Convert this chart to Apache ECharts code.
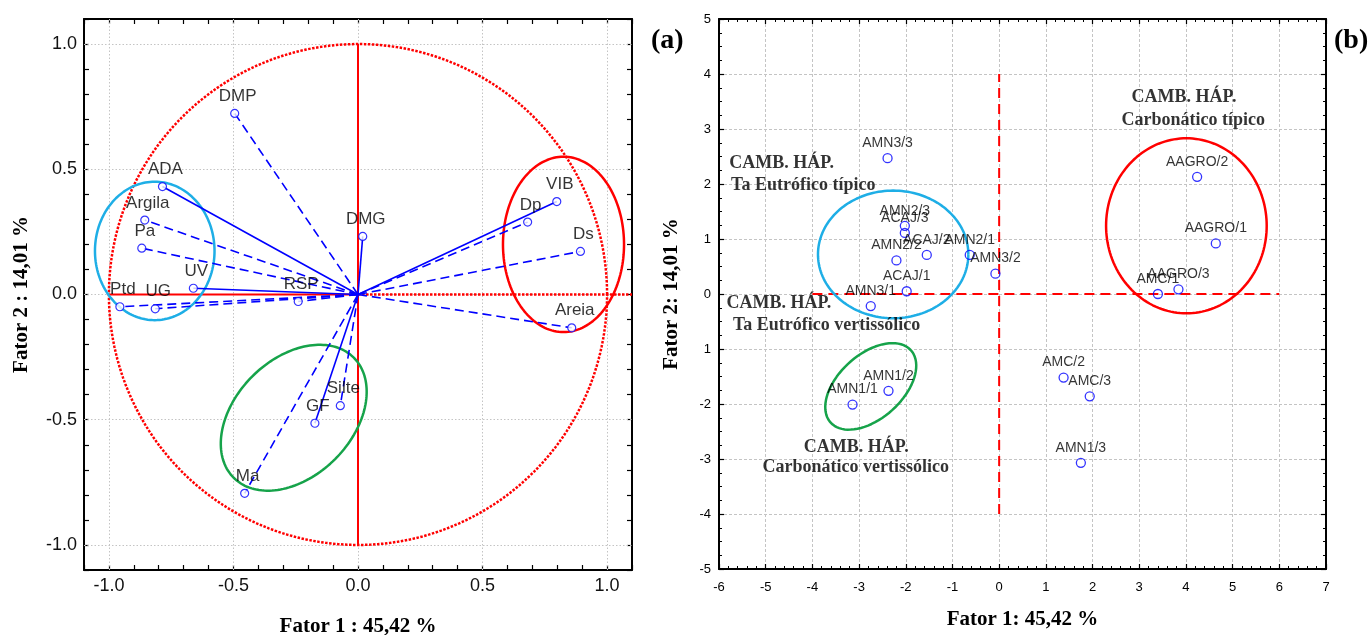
<!DOCTYPE html>
<html>
<head>
<meta charset="utf-8">
<script src="https://cdn.jsdelivr.net/npm/echarts@6/dist/echarts.min.js"></script>
<style>
  html, body { margin: 0; background: #fff; }
  #main { width: 1370px; height: 635px; }
</style>
</head>
<body>
<div id="main"></div>
<script>
// (a) variable loadings on Fator 1 / Fator 2
const varNames = ['DMP', 'ADA', 'Argila', 'Pa', 'UV', 'Ptd', 'UG', 'RSP', 'DMG', 'VIB', 'Dp', 'Ds', 'Areia', 'Silte', 'GF', 'Ma']
const varF1 = [-0.495, -0.785, -0.856, -0.868, -0.661, -0.956, -0.814, -0.240, 0.019, 0.798, 0.681, 0.893, 0.858, -0.071, -0.173, -0.455]
const varF2 = [0.723, 0.431, 0.297, 0.185, 0.025, -0.049, -0.057, -0.028, 0.232, 0.371, 0.289, 0.172, -0.133, -0.444, -0.514, -0.794]
const solidVars = ['ADA', 'UV', 'DMG', 'VIB', 'GF']
const tickValuesA = [-1, -0.5, 0, 0.5, 1]
const tickLabelsA = ['-1.0', '-0.5', '0.0', '0.5', '1.0']

// (b) sample scores
const sampleNames = ['AMN3/3', 'AMN2/3', 'ACAJ/3', 'ACAJ/2', 'AMN2/2', 'AMN2/1', 'AMN3/2', 'ACAJ/1', 'AMN3/1',
  'AAGRO/2', 'AAGRO/1', 'AAGRO/3', 'AMC/1', 'AMN1/1', 'AMN1/2', 'AMC/2', 'AMC/3', 'AMN1/3']
const sampleF1 = [-2.39, -2.02, -2.02, -1.55, -2.20, -0.63, -0.08, -1.98, -2.75, 4.24, 4.64, 3.84, 3.40, -3.14, -2.37, 1.38, 1.94, 1.75]
const sampleF2 = [2.47, 1.24, 1.11, 0.71, 0.61, 0.71, 0.37, 0.05, -0.22, 2.13, 0.92, 0.085, 0.0, -2.01, -1.76, -1.52, -1.86, -3.07]
const yTickLabelsB = ['-5', '-4', '-3', '-2', '1', '0', '1', '2', '3', '4', '5']

// soil class annotations on (b)
const groupTitles = ['CAMB. HÁP.', 'CAMB. HÁP.', 'CAMB. HÁP.', 'CAMB. HÁP.']
const groupSubtitles = ['Ta Eutrófico típico', 'Ta Eutrófico vertissólico', 'Carbonático vertissólico', 'Carbonático típico']

const SANS = '"Liberation Sans", Arial, sans-serif'
const SERIF = '"Liberation Serif", "Times New Roman", serif'
const BLUE = '#0000ff'
const RED = '#ff0000'
const CYAN = '#1eaee6'
const GREEN = '#16a34a'

const gridA = { left: 84, top: 19, width: 548, height: 551 }
const gridB = { left: 719, top: 19, width: 607, height: 550 }
const aspectA = (gridA.width / 2.2) / (gridA.height / 2.2)
const aspectB = (gridB.width / 13) / (gridB.height / 10)

// group outlines: centre in data units, semi axes in x units
const ellipsesA = [
  { cx: -0.816, cy: 0.174, a: 0.240, b: 0.278, deg: 0, color: CYAN },
  { cx: 0.825, cy: 0.200, a: 0.243, b: 0.352, deg: 0, color: RED },
  { cx: -0.258, cy: -0.492, a: 0.341, b: 0.235, deg: 45, color: GREEN }
]
const ellipsesB = [
  { cx: -2.27, cy: 0.72, a: 1.61, b: 1.366, deg: 0, color: CYAN },
  { cx: 4.01, cy: 1.24, a: 1.72, b: 1.874, deg: 0, color: RED },
  { cx: -2.75, cy: -1.68, a: 1.157, b: 0.685, deg: 42, color: GREEN }
]
const annotB = [
  { x: -5.78, y: 2.38, align: 'left' }, { x: -5.74, y: 1.97, align: 'left' },
  { x: -5.84, y: -0.17, align: 'left' }, { x: -5.70, y: -0.57, align: 'left' },
  { x: -3.06, y: -2.79, align: 'center' }, { x: -3.07, y: -3.16, align: 'center' },
  { x: 3.96, y: 3.57, align: 'center' }, { x: 4.16, y: 3.15, align: 'center' }
]

function ellipsePts (e, aspect) {
  const pts = []
  const r = e.deg * Math.PI / 180
  for (let i = 0; i <= 160; i++) {
    const t = i / 160 * 2 * Math.PI
    const dx = e.a * Math.cos(t) * Math.cos(r) - e.b * Math.sin(t) * Math.sin(r)
    const dy = e.a * Math.cos(t) * Math.sin(r) + e.b * Math.sin(t) * Math.cos(r)
    pts.push([e.cx + dx, e.cy + dy * aspect])
  }
  return pts
}

function unitCircle () {
  const pts = []
  for (let i = 0; i <= 240; i++) {
    const t = i / 240 * 2 * Math.PI
    pts.push([Math.cos(t), Math.sin(t)])
  }
  return pts
}

function frameAxis (gridIndex, position, min, max, interval, opts) {
  const main = position === 'bottom' || position === 'left'
  return Object.assign({
    type: 'value', gridIndex, position, min, max, interval,
    axisLine: { show: true, onZero: false, lineStyle: { color: '#000', width: 2 } },
    axisTick: { show: true, inside: true, length: 5, lineStyle: { color: '#000', width: 1.2 } },
    splitLine: { show: false },
    axisLabel: { show: main, color: '#000', fontFamily: SANS }
  }, opts)
}

function labelA (v) {
  const i = tickValuesA.findIndex(t => Math.abs(t - v) < 1e-6)
  return i < 0 ? '' : tickLabelsA[i]
}

const titleStyle = { fontFamily: SERIF, fontWeight: 'bold', fontSize: 21, color: '#000' }
const gridLineB = { show: true, lineStyle: { color: '#c4c4c4', type: [3, 2], width: 1 } }

const xAxes = [
  frameAxis(0, 'bottom', -1.1, 1.1, 0.1, {
    name: 'Fator 1 : 45,42 %', nameLocation: 'middle', nameGap: 46, nameTextStyle: titleStyle,
    axisLabel: { show: true, color: '#111', fontFamily: SANS, fontSize: 18, margin: 7, formatter: labelA }
  }),
  frameAxis(0, 'top', -1.1, 1.1, 0.1, {}),
  frameAxis(1, 'bottom', -6, 7, 1, {
    name: 'Fator 1: 45,42 %', nameLocation: 'middle', nameGap: 40, nameTextStyle: titleStyle,
    minorTick: { show: true, splitNumber: 5, length: 3, lineStyle: { color: '#000' } },
    splitLine: gridLineB,
    axisLabel: { show: true, color: '#000', fontFamily: SANS, fontSize: 13, margin: 12 }
  }),
  frameAxis(1, 'top', -6, 7, 1, {
    minorTick: { show: true, splitNumber: 5, length: 3, lineStyle: { color: '#000' } }
  })
]
const yAxes = [
  frameAxis(0, 'left', -1.1, 1.1, 0.1, {
    name: 'Fator 2 : 14,01 %', nameLocation: 'middle', nameGap: 52, nameRotate: 90, nameTextStyle: titleStyle,
    axisLabel: { show: true, color: '#111', fontFamily: SANS, fontSize: 18, margin: 7, formatter: labelA }
  }),
  frameAxis(0, 'right', -1.1, 1.1, 0.1, {}),
  frameAxis(1, 'left', -5, 5, 1, {
    name: 'Fator 2: 14,01 %', nameLocation: 'middle', nameGap: 37, nameRotate: 90, nameTextStyle: titleStyle,
    minorTick: { show: true, splitNumber: 4, length: 3, lineStyle: { color: '#000' } },
    splitLine: gridLineB,
    axisLabel: { show: true, color: '#000', fontFamily: SANS, fontSize: 13, margin: 8,
      formatter: v => yTickLabelsB[Math.round(v) + 5] }
  }),
  frameAxis(1, 'right', -5, 5, 1, {
    minorTick: { show: true, splitNumber: 4, length: 3, lineStyle: { color: '#000' } }
  })
]

const series = []

// (a) unit circle, with the dotted reference grid
series.push({
  type: 'line', xAxisIndex: 0, yAxisIndex: 0, data: unitCircle(), showSymbol: false, silent: true, z: 2,
  lineStyle: { color: RED, width: 2.5, type: [2.5, 1.5] },
  markLine: {
    silent: true, symbol: 'none', label: { show: false }, z: 1,
    lineStyle: { color: '#c4c4c4', type: [1.5, 2], width: 1 },
    data: tickValuesA.map(v => ({ xAxis: v })).concat(tickValuesA.map(v => ({ yAxis: v })))
  }
})
series.push({ type: 'line', xAxisIndex: 0, yAxisIndex: 0, data: [[0, -1], [0, 1]], showSymbol: false, silent: true, z: 3,
  lineStyle: { color: RED, width: 2 } })
series.push({ type: 'line', xAxisIndex: 0, yAxisIndex: 0, data: [[-1, 0], [0, 0]], showSymbol: false, silent: true, z: 3,
  lineStyle: { color: RED, width: 2 } })
series.push({ type: 'line', xAxisIndex: 0, yAxisIndex: 0, data: [[0, 0], [1.1, 0]], showSymbol: false, silent: true, z: 3,
  lineStyle: { color: RED, width: 2.5, type: [2.5, 1.5] } })

ellipsesA.forEach(e => series.push({
  type: 'line', xAxisIndex: 0, yAxisIndex: 0, data: ellipsePts(e, aspectA), showSymbol: false, silent: true, z: 4,
  lineStyle: { color: e.color, width: 2.5 }
}))

varNames.forEach((n, i) => series.push({
  type: 'line', xAxisIndex: 0, yAxisIndex: 0, data: [[0, 0], [varF1[i], varF2[i]]], showSymbol: false, z: 5,
  lineStyle: { color: BLUE, width: 1.6, type: solidVars.includes(n) ? 'solid' : [9, 5] }
}))

series.push({
  type: 'scatter', xAxisIndex: 0, yAxisIndex: 0, z: 6,
  data: varNames.map((n, i) => ({ name: n, value: [varF1[i], varF2[i]] })),
  symbol: 'circle', symbolSize: 8,
  itemStyle: { color: '#fff', borderColor: BLUE, borderWidth: 1.2 },
  label: { show: true, position: 'top', distance: 4, offset: [3, 0], formatter: '{b}',
    color: '#000', fontFamily: SANS, fontSize: 17 }
})

// (b) reference axes through the origin
series.push({ type: 'line', xAxisIndex: 2, yAxisIndex: 2, data: [[-4, 0], [6, 0]], showSymbol: false, silent: true, z: 3,
  lineStyle: { color: RED, width: 2, type: [10, 6] } })
series.push({ type: 'line', xAxisIndex: 2, yAxisIndex: 2, data: [[0, -4], [0, 4]], showSymbol: false, silent: true, z: 3,
  lineStyle: { color: RED, width: 2, type: [10, 6] } })

ellipsesB.forEach(e => series.push({
  type: 'line', xAxisIndex: 2, yAxisIndex: 2, data: ellipsePts(e, aspectB), showSymbol: false, silent: true, z: 4,
  lineStyle: { color: e.color, width: 2.5 }
}))

series.push({
  type: 'scatter', xAxisIndex: 2, yAxisIndex: 2, z: 6,
  data: sampleNames.map((n, i) => ({ name: n, value: [sampleF1[i], sampleF2[i]] })),
  symbol: 'circle', symbolSize: 9,
  itemStyle: { color: 'rgba(255,255,255,0)', borderColor: BLUE, borderWidth: 1.3 },
  label: { show: true, position: 'top', distance: 3, formatter: '{b}',
    color: '#000', fontFamily: SANS, fontSize: 14 }
})

const annotTexts = []
groupTitles.forEach((t, i) => { annotTexts.push(t, groupSubtitles[i]) })
series.push({
  type: 'scatter', xAxisIndex: 2, yAxisIndex: 2, z: 7, silent: true,
  data: annotB.map((p, i) => ({
    name: annotTexts[i], value: [p.x, p.y],
    label: { align: p.align }
  })),
  symbolSize: 0.1, itemStyle: { color: 'rgba(0,0,0,0)' },
  label: { show: true, position: [0, 0], verticalAlign: 'middle', formatter: '{b}',
    color: '#000', fontFamily: SERIF, fontWeight: 'bold', fontSize: 18 }
})

const chart = echarts.init(document.getElementById('main'))
chart.setOption({
  animation: false,
  backgroundColor: '#fff',
  grid: [
    Object.assign({ containLabel: false, outerBoundsMode: 'none' }, gridA),
    Object.assign({ containLabel: false, outerBoundsMode: 'none' }, gridB)
  ],
  xAxis: xAxes,
  yAxis: yAxes,
  graphic: [
    { type: 'text', left: 651, top: 27, style: { text: '(a)', font: 'bold 28px ' + SERIF, fill: '#000' } },
    { type: 'text', left: 1334, top: 27, style: { text: '(b)', font: 'bold 28px ' + SERIF, fill: '#000' } }
  ],
  series
})
window.addEventListener('resize', () => chart.resize())
</script>
</body>
</html>
